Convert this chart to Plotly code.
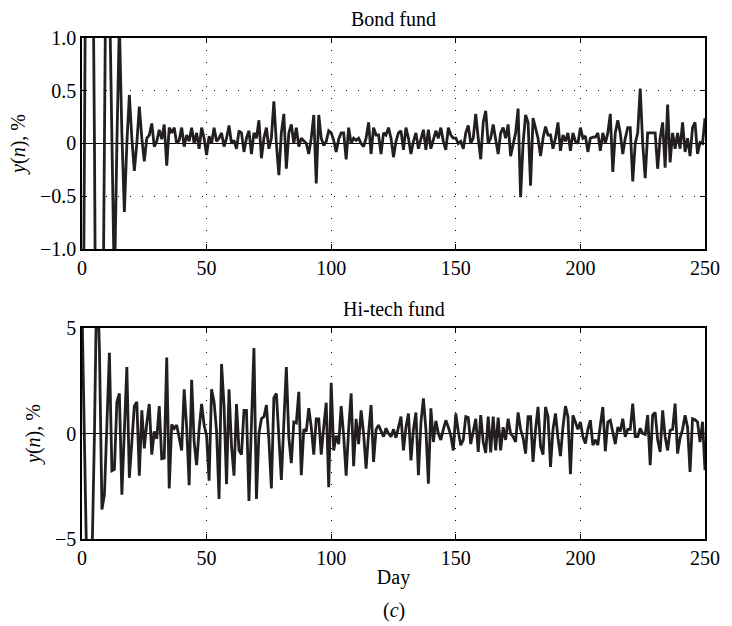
import plotly.graph_objects as go
from plotly.subplots import make_subplots

days = list(range(251))

bond = [
    -4, 0, 4, 5, 3, 0, -4, -5, -3, 0,
    3, 1.5, 0, -1.4, 0, 1.15, 0.1, -0.65, 0.0, 0.46,
    0.05, -0.26, 0.0, 0.35, 0.05, -0.17, 0.05, 0.08, 0.19, -0.03,
    0.02, 0.13, 0.04, 0.18, -0.21, 0.15, 0.1, 0.15, 0.0, 0.03,
    0.15, -0.03, 0.08, 0.02, 0.15, 0.0, 0.1, -0.05, 0.15, 0.05,
    -0.11, 0.07, 0.0, 0.15, 0.02, 0.05, 0.1, -0.03, 0.05, 0.17,
    0.0, 0.03, -0.05, 0.12, 0.1, -0.08, 0.05, 0.12, -0.1, 0.1,
    0.05, 0.22, -0.14, 0.05, 0.15, -0.05, 0.05, 0.4, 0.0, -0.3,
    0.1, 0.28, -0.24, 0.1, 0.18, 0.0, 0.15, -0.03, 0.05, 0.02,
    0.0, -0.1, 0.05, 0.27, -0.38, 0.27, 0.05, -0.02, 0.02, 0.12,
    0.1, 0.03, -0.08, 0.04, 0.1, 0.1, -0.15, 0.15, 0.0, 0.05,
    0.03, 0.05, 0.0, -0.03, 0.05, 0.2, -0.1, 0.15, 0.08, 0.08,
    -0.1, 0.1, 0.08, 0.15, 0.05, -0.13, 0.02, 0.1, 0.12, -0.06,
    0.15, 0.05, -0.1, 0.02, 0.1, -0.05, 0.03, 0.13, -0.06, 0.13,
    -0.05, 0.04, 0.12, 0.05, 0.15, 0.02, -0.06, 0.15, 0.08, 0.05,
    0.05, 0.0, 0.02, -0.05, 0.1, 0.17, 0.0, 0.05, 0.28, 0.05,
    -0.15, 0.2, 0.31, 0.0, 0.05, 0.18, 0.05, -0.1, 0.1, 0.15,
    0.05, 0.18, -0.12, 0.0, 0.1, 0.33, -0.51, 0.0, 0.27, 0.2,
    -0.4, 0.24, 0.15, 0.05, -0.12, 0.05, 0.16, 0.08, 0.08, -0.05,
    0.05, 0.2, -0.07, 0.08, 0.02, 0.1, -0.07, 0.1, 0.02, 0.0,
    0.15, 0.05, 0.07, -0.08, 0.05, 0.06, 0.06, 0.1, -0.07, 0.1,
    0.0, 0.1, 0.28, -0.27, 0.1, 0.22, 0.1, -0.1, 0.05, 0.15,
    0.15, -0.36, 0.0, 0.1, 0.52, 0.0, -0.33, 0.1, 0.1, 0.1,
    0.1, -0.24, 0.05, 0.2, -0.23, 0.37, -0.18, 0.1, -0.05, 0.1,
    -0.05, 0.2, -0.08, 0.05, -0.12, 0.15, 0.2, -0.1, 0.01, 0.0,
    0.24,
]

hitech = [
    6, 0, -7, -8, -6, 0, 8, 4, -3.6, -2.9,
    0.4, 3.83, -1.76, -1.7, 1.5, 1.9, -2.9, 0.2, 3.15, -2.1,
    -0.3, 1.3, 1.5, -2.0, 1.1, -0.7, 0.5, 1.4, -1.0, 0.1,
    -0.25, 1.3, -1.2, -1.17, 3.6, -2.6, 0.43, 0.24, 0.4, -0.2,
    -0.8, 2.1, 0.3, -2.45, 2.55, -0.4, -1.5, 0.2, 1.4, 0.4,
    -0.1, -2.24, 2.1, 1.5, 0.1, -3.1, 3.3, 1.3, -2.4, 2.1,
    -0.6, -2.0, 1.4, -0.8, -1.0, 1.1, 1.1, -3.2, 0.4, 4.05,
    -3.1, 0.0, 0.7, 0.8, 1.35, -0.3, -2.6, 1.7, 1.9, -0.5,
    -2.2, 0.5, 3.15, -0.2, -1.4, 0.55, 0.5, 1.98, -1.98, 0.2,
    0.1, 1.2, 0.3, -1.0, 0.7, 0.7, -1.0, 0.3, 1.46, -2.54,
    2.41, -0.8, -0.1, -0.5, 1.3, -0.1, -2.0, 0.2, 1.9, -1.55,
    0.7, -0.5, 1.1, 0.0, -1.67, 0.0, 1.35, -1.35, 0.2, 0.4,
    0.15, -0.15, 0.25, 0.0, -0.15, 0.2, -0.2, 0.3, 0.8, -0.8,
    0.3, 0.95, -1.27, 0.2, 1.0, -1.98, 0.5, 1.67, 0.2, -2.38,
    1.2, -0.4, 0.6, 0.0, -0.3, 0.2, 0.63, 0.3, -0.1, -0.8,
    0.95, 0.1, -0.55, -0.3, 0.8, 0.76, -0.5, 0.1, 0.7, -0.87,
    0.87, -0.4, -0.92, 0.8, -0.9, 0.8, -0.8, 0.75, -0.8, 0.3,
    -0.3, 0.7, 0.0, -0.15, -0.4, 1.0, 0.2, -0.2, -0.95, 0.8,
    0.8, -1.35, 0.2, 1.26, -0.6, -1.0, 1.26, 0.8, -1.58, 0.2,
    0.95, -0.2, -1.07, 0.3, 1.3, 0.8, -1.93, 0.87, 0.5, 0.2,
    0.55, -0.15, -0.47, 0.2, 0.63, -0.55, -0.3, -0.55, 0.4, 1.26,
    -0.84, 0.55, 0.63, 0.0, -0.5, 0.3, 0.1, 0.7, -0.15, 0.2,
    0.2, 1.42, -0.15, -0.15, 0.25, 0.0, -0.05, 0.87, -1.5, 0.87,
    1.0, -0.3, -0.87, 1.1, -0.15, -0.8, 0.15, 0.2, 1.42, -0.95,
    -0.2, 0.2, 0.87, 0.3, -1.82, 0.7, 0.65, 0.55, -0.4, 0.55,
    -1.74,
]

x_ticks = [0, 50, 100, 150, 200, 250]
bond_yticks = [-1.0, -0.5, 0, 0.5, 1.0]
bond_ylabels = ["\u22121.0", "\u22120.5", "0", "0.5", "1.0"]
hitech_yticks = [-5, 0, 5]
hitech_ylabels = ["\u22125", "0", "5"]

FONT = "Liberation Serif"
LINE = "#231f20"

fig = make_subplots(rows=2, cols=1, vertical_spacing=0.158)

fig.add_trace(go.Scatter(x=days, y=bond, mode="lines",
                         line=dict(color=LINE, width=2.8), showlegend=False),
              row=1, col=1)
fig.add_trace(go.Scatter(x=days, y=hitech, mode="lines",
                         line=dict(color=LINE, width=2.8), showlegend=False),
              row=2, col=1)

axis_common = dict(
    showline=True, linecolor="black", linewidth=1.5, mirror="ticks",
    ticks="inside", ticklen=5, tickwidth=1, tickcolor="black",
    tickfont=dict(family=FONT, size=20, color="black"),
    showgrid=True, gridcolor="black", gridwidth=1, griddash="1px,11px",
    zeroline=False,
)

for r in (1, 2):
    fig.update_xaxes(range=[0, 250], tickvals=x_ticks,
                     ticktext=[str(v) for v in x_ticks], row=r, col=1,
                     **axis_common)

fig.update_yaxes(range=[-1, 1], tickvals=bond_yticks, ticktext=bond_ylabels,
                 row=1, col=1, **axis_common)
fig.update_yaxes(range=[-5, 5], tickvals=hitech_yticks, ticktext=hitech_ylabels,
                 row=2, col=1, **{k: v for k, v in axis_common.items() if k != "showgrid"},
                 showgrid=False)

# solid zero lines
fig.update_yaxes(zeroline=True, zerolinecolor="black", zerolinewidth=1)

ylab = "<i>y</i>(<i>n</i>), %"
fig.update_yaxes(title=dict(text=ylab, font=dict(family=FONT, size=20, color="black"),
                            standoff=9))
fig.update_xaxes(title=dict(text="Day", font=dict(family=FONT, size=20, color="black"),
                            standoff=2), row=2, col=1)

fig.update_layout(
    width=732, height=626,
    margin=dict(l=82, r=16, t=38, b=87),
    paper_bgcolor="white", plot_bgcolor="white",
    font=dict(family=FONT, size=20, color="black"),
    annotations=[
        dict(text="Bond fund", x=0.5, xref="paper", y=1.0, yref="paper",
             yanchor="bottom", yshift=6, showarrow=False,
             font=dict(family=FONT, size=20, color="black")),
        dict(text="Hi-tech fund", x=0.5, xref="paper", y=0.421, yref="paper",
             yanchor="bottom", yshift=6, showarrow=False,
             font=dict(family=FONT, size=20, color="black")),
        dict(text="(<i>c</i>)", x=0.5, xref="paper", y=0, yref="paper",
             yanchor="top", yshift=-58, showarrow=False,
             font=dict(family=FONT, size=20, color="black")),
    ],
)

fig.write_html("out.html")
